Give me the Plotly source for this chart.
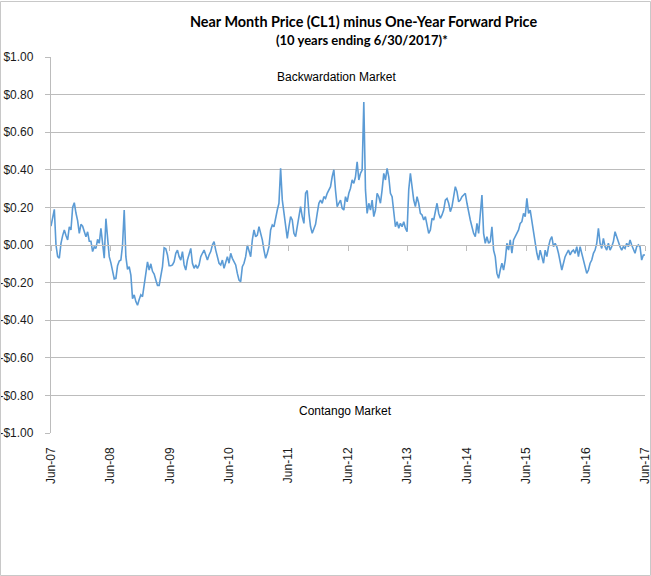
import pandas as pd
import plotly.graph_objects as go

# Near month minus one-year forward spread ($) (~10-day steps, Jun-2007 .. Jun-2017)
spread = [
    0.10, 0.14, 0.19, 0.00, -0.062, -0.07, 0.009, 0.05, 0.08, 0.05,
    0.027, 0.097, 0.08, 0.20, 0.225, 0.17, 0.13, 0.062, 0.11, 0.10,
    0.065, 0.044, 0.07, 0.02, 0.02, -0.035, -0.01, -0.018, 0.03, 0.009,
    0.089, 0.0, -0.07, 0.14, 0.04, -0.062, -0.095, -0.14, -0.18, -0.177,
    -0.11, -0.085, -0.08, 0.0, 0.186, -0.062, -0.13, -0.115, -0.16, -0.285,
    -0.265, -0.301, -0.32, -0.29, -0.265, -0.275, -0.21, -0.145, -0.09, -0.133,
    -0.10, -0.14, -0.155, -0.186, -0.215, -0.215, -0.17, -0.115, -0.015, -0.02,
    -0.053, -0.11, -0.11, -0.106, -0.089, -0.044, -0.027, -0.062, -0.08, -0.035,
    -0.106, -0.133, -0.08, -0.044, -0.018, -0.097, -0.124, -0.106, -0.124, -0.106,
    -0.062, -0.044, -0.027, -0.053, -0.08, -0.053, -0.035, 0.0, 0.018, -0.027,
    -0.062, -0.097, -0.106, -0.08, -0.124, -0.089, -0.062, -0.097, -0.044, -0.071,
    -0.089, -0.106, -0.151, -0.186, -0.195, -0.115, -0.097, -0.062, 0.0, -0.027,
    -0.062, 0.027, 0.08, 0.044, 0.053, 0.097, 0.062, 0.027, -0.027, -0.071,
    -0.044, -0.009, 0.08, 0.106, 0.097, 0.151, 0.186, 0.222, 0.408, 0.24,
    0.16, 0.08, 0.035, 0.097, 0.151, 0.133, 0.062, 0.044, 0.097, 0.168,
    0.204, 0.151, 0.115, 0.275, 0.29, 0.17, 0.097, 0.062, 0.085, 0.11,
    0.168, 0.222, 0.239, 0.222, 0.257, 0.248, 0.275, 0.293, 0.31, 0.363,
    0.40, 0.29, 0.204, 0.222, 0.239, 0.195, 0.186, 0.257, 0.23, 0.275,
    0.302, 0.346, 0.328, 0.363, 0.443, 0.346, 0.381, 0.399, 0.76, 0.293,
    0.168, 0.222, 0.186, 0.239, 0.151, 0.186, 0.275, 0.257, 0.222, 0.293,
    0.381, 0.346, 0.408, 0.363, 0.275, 0.257, 0.168, 0.097, 0.124, 0.089,
    0.115, 0.097, 0.124, 0.089, 0.071, 0.293, 0.381, 0.293, 0.239, 0.204,
    0.257, 0.222, 0.168, 0.160, 0.133, 0.151, 0.115, 0.062, 0.080, 0.142,
    0.133, 0.186, 0.222, 0.168, 0.142, 0.160, 0.186, 0.239, 0.248, 0.222,
    0.177, 0.204, 0.257, 0.310, 0.284, 0.230, 0.239, 0.257, 0.266, 0.275,
    0.222, 0.168, 0.133, 0.097, 0.062, 0.044, 0.115, 0.062, 0.151, 0.266,
    0.062, 0.009, 0.044, 0.009, 0.018, 0.097, -0.027, -0.062, -0.151, -0.177,
    -0.133, -0.097, -0.133, -0.080, 0.009, -0.027, 0.027, -0.044, 0.027, 0.044,
    0.062, 0.080, 0.115, 0.124, 0.168, 0.151, 0.248, 0.168, 0.186, 0.124,
    0.062, 0.009, -0.044, -0.080, -0.027, -0.062, -0.097, -0.027, -0.062, -0.009,
    0.027, 0.044, -0.009, 0.009, -0.009, -0.044, -0.097, -0.133, -0.097, -0.062,
    -0.044, -0.027, -0.053, -0.035, -0.027, -0.044, -0.009, -0.062, -0.009, -0.044,
    -0.080, -0.115, -0.151, -0.133, -0.097, -0.080, -0.044, -0.027, 0.009, 0.089,
    0.009, -0.018, 0.035, -0.009, -0.027, 0.009, -0.027, -0.009, 0.018, 0.071,
    0.044, 0.009, -0.009, -0.027, -0.009, -0.018, 0.009, -0.009, 0.027, 0.0,
    -0.018, -0.044, -0.009, 0.0, -0.009, -0.080, -0.053, -0.053,
]
start_date = "2007-06-30"
end_date = "2017-06-30"
dates = pd.date_range(start_date, end_date, periods=len(spread))

x_tick_dates = ["2007-06-30", "2008-06-30", "2009-06-30", "2010-06-30", "2011-06-30",
                "2012-06-30", "2013-06-30", "2014-06-30", "2015-06-30", "2016-06-30",
                "2017-06-30"]
x_tick_labels = ["Jun-07", "Jun-08", "Jun-09", "Jun-10", "Jun-11", "Jun-12",
                 "Jun-13", "Jun-14", "Jun-15", "Jun-16", "Jun-17"]
y_tick_vals = [1.0, 0.8, 0.6, 0.4, 0.2, 0.0, -0.2, -0.4, -0.6, -0.8, -1.0]
y_tick_labels = ["$1.00", "$0.80", "$0.60", "$0.40", "$0.20", "$0.00",
                 "-$0.20", "-$0.40", "-$0.60", "-$0.80", "-$1.00"]

title_line1 = "Near Month Price (CL1) minus One-Year Forward Price"
title_line2 = "(10 years ending 6/30/2017)*"
upper_label = "Backwardation Market"
lower_label = "Contango Market"

W, H = 651, 576
L, R, T, B = 51, 6, 57, 143
pw, ph = W - L - R, H - T - B

grid = "#bcbcbc"
lab = "#1a1a1a"

fig = go.Figure()
fig.add_trace(go.Scatter(x=dates, y=spread, mode="lines",
                         line=dict(color="#5b9bd5", width=1.6),
                         showlegend=False, hoverinfo="skip"))
fig.add_trace(go.Scatter(x=[dates[0]], y=[None], xaxis="x2", mode="lines",
                         showlegend=False, hoverinfo="skip"))

xrange = [start_date, end_date]
fig.update_layout(
    width=W, height=H,
    margin=dict(l=L, r=R, t=T, b=B, pad=0, autoexpand=False),
    paper_bgcolor="white", plot_bgcolor="white",
    font=dict(family="Liberation Sans", color=lab, size=12),
    xaxis=dict(type="date", range=xrange, tickmode="array", automargin=False,
               tickvals=x_tick_dates, ticktext=x_tick_labels,
               tickangle=-90, showgrid=False, showline=False, zeroline=False,
               ticks="", ticklabelstandoff=11, ticklabeloverflow="allow",
               tickfont=dict(family="Liberation Sans", size=12, color=lab)),
    xaxis2=dict(type="date", range=xrange, overlaying="x", anchor="free",
                position=0.5, tickmode="array", tickvals=x_tick_dates,
                automargin=False,
                showticklabels=False, showgrid=False, zeroline=False,
                showline=True, linecolor=grid, linewidth=1.3,
                ticks="outside", ticklen=5, tickcolor=grid, tickwidth=1.3),
    yaxis=dict(range=[-1.0, 1.0], tickmode="array", tickvals=y_tick_vals,
               ticktext=y_tick_labels, showgrid=True, gridcolor=grid,
               automargin=False,
               gridwidth=1.3, zeroline=False, showline=True, linecolor=grid,
               linewidth=1.3, ticks="outside", ticklen=5, tickcolor=grid,
               tickwidth=1.3, ticklabelstandoff=9,
               tickfont=dict(family="Liberation Sans", size=12, color=lab)),
)

def px_x(p):
    return (p - L) / pw

def px_y(p):
    return (H - B - p) / ph

common = dict(xref="paper", showarrow=False, xanchor="center", yanchor="middle")
fig.add_annotation(text="<b>" + title_line1 + "</b>", yref="paper",
                   x=px_x(363), y=px_y(21.5), **common,
                   font=dict(family="Lato", size=14.4, color="#000000"))
fig.add_annotation(text="<b>" + title_line2 + "</b>", yref="paper",
                   x=px_x(362), y=px_y(40), **common,
                   font=dict(family="Lato", size=13, color="#000000"))
fig.add_annotation(text=upper_label, yref="paper",
                   x=px_x(336), y=px_y(77), **common,
                   font=dict(family="Liberation Sans", size=12, color="#000000"))
fig.add_annotation(text=lower_label, yref="paper",
                   x=px_x(345), y=px_y(411), **common,
                   font=dict(family="Liberation Sans", size=12, color="#000000"))

fig.add_shape(type="rect", xref="paper", yref="paper",
              x0=px_x(0.5), x1=px_x(650.5), y0=px_y(575.5), y1=px_y(1.5),
              line=dict(color="#c8c8c8", width=1), fillcolor="rgba(0,0,0,0)",
              layer="above")

fig.write_html("out.html", config={"displayModeBar": False},
               post_script="document.body.style.margin='0px';document.body.style.padding='0px';")
